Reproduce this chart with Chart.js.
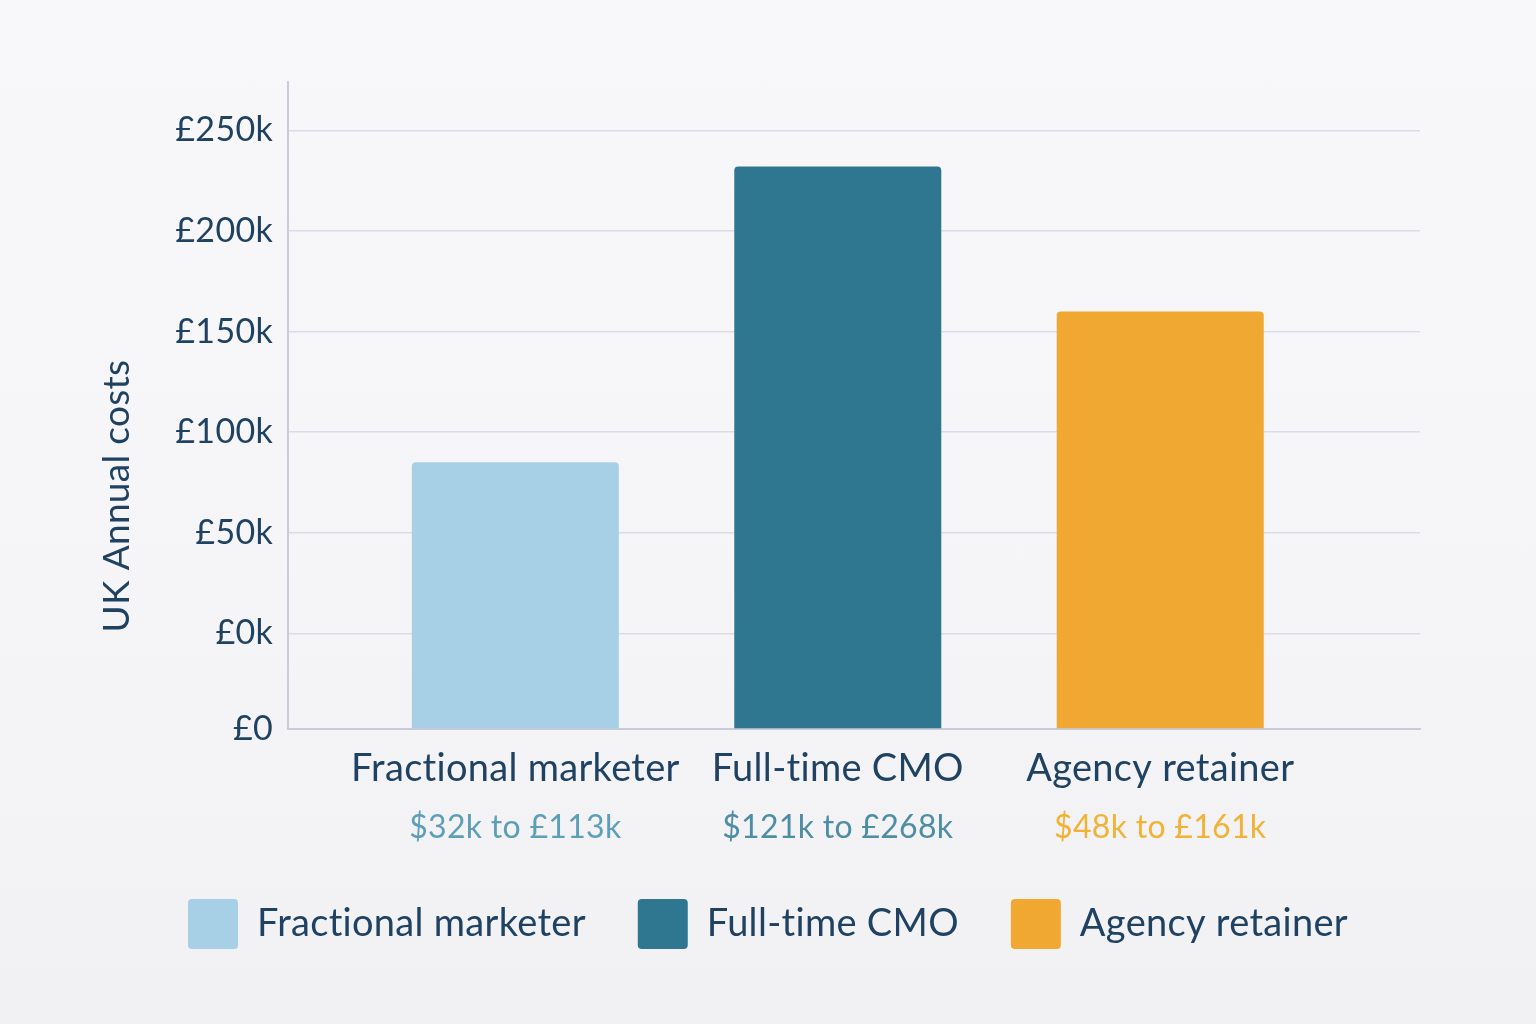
<!DOCTYPE html>
<html>
<head>
<meta charset="utf-8">
<script src="https://cdn.jsdelivr.net/npm/chart.js@4.4.1/dist/chart.umd.min.js"></script>
<style>
  html, body { margin: 0; padding: 0; }
  body { width: 1536px; height: 1024px; background: linear-gradient(180deg, #f8f8fb 0%, #f5f5f8 60%, #f1f1f4 100%); }
  #wrap { position: relative; width: 1536px; height: 1024px; }
</style>
</head>
<body>
<div id="wrap"><canvas id="c"></canvas></div>
<script>
// ---- data ----
const categories = ['Fractional marketer', 'Full-time CMO', 'Agency retainer'];
const values = [85, 232, 160];
const rangeLabels = ['$32k to £113k', '$121k to £268k', '$48k to £161k'];
const barColors = ['#a7d0e6', '#2f7690', '#f0a832'];
const rangeColors = ['#5c9fb6', '#4d8ea5', '#f2b236'];
const yTickValues = [-47.5, 0, 50, 100, 150, 200, 250];
const yTickLabels = ['£0', '£0k', '£50k', '£100k', '£150k', '£200k', '£250k'];
const yAxisTitle = 'UK Annual costs';

const NAVY = '#1f4262';
const FONT = 'Lato';

const datasets = categories.map((c, i) => ({
  label: c,
  data: [{ x: i + 1, y: values[i] }],
  backgroundColor: barColors[i],
  borderColor: barColors[i],
  borderWidth: 0,
  borderRadius: 4,
  base: yTickValues[0],
  grouped: false,
  barPercentage: 0.642,
  categoryPercentage: 1
}));

const textPlugin = {
  id: 'textTweaks',
  beforeUpdate(chart) { chart.ctx.letterSpacing = '0.3px'; },
  afterDraw(chart) {
    const { ctx, chartArea } = chart;
    ctx.save();
    ctx.translate(117, chartArea.bottom - 233);
    ctx.rotate(-Math.PI / 2);
    ctx.fillStyle = NAVY;
    ctx.font = '37px ' + FONT;
    ctx.textAlign = 'center';
    ctx.textBaseline = 'middle';
    ctx.fillText(yAxisTitle, 0, 0);
    ctx.restore();
  }
};

new Chart(document.getElementById('c'), {
  type: 'bar',
  data: { datasets },
  plugins: [textPlugin],
  options: {
    responsive: true,
    maintainAspectRatio: false,
    animation: false,
    devicePixelRatio: 1,
    layout: { padding: { left: 116, right: 116, top: 82, bottom: 65 } },
    plugins: {
      tooltip: { enabled: false },
      legend: {
        position: 'bottom',
        labels: {
          boxWidth: 50,
          boxHeight: 50,
          useBorderRadius: true,
          borderRadius: 4,
          padding: 52,
          color: NAVY,
          font: { family: FONT, size: 38 }
        }
      }
    },
    scales: {
      x: {
        type: 'linear',
        offset: false,
        min: 0.295,
        max: 3.8056,
        weight: 1,
        afterBuildTicks: (s) => { s.ticks = categories.map((c, i) => ({ value: i + 1 })); },
        grid: { display: false, drawTicks: false },
        border: { display: true, color: '#c9cbdb', width: 2 },
        ticks: {
          padding: 17,
          autoSkip: false,
          maxRotation: 0,
          color: NAVY,
          font: { family: FONT, size: 38 },
          callback: (v) => categories[v - 1] ?? ''
        }
      },
      x2: {
        type: 'linear',
        position: 'bottom',
        offset: false,
        min: 0.295,
        max: 3.8056,
        weight: 2,
        afterBuildTicks: (s) => { s.ticks = rangeLabels.map((c, i) => ({ value: i + 1 })); },
        grid: { display: false, drawTicks: false },
        border: { display: false },
        ticks: {
          padding: 0,
          autoSkip: false,
          maxRotation: 0,
          color: (ctx) => rangeColors[ctx.index],
          font: { family: FONT, size: 32 },
          callback: (v) => rangeLabels[v - 1] ?? ''
        }
      },
      y: {
        type: 'linear',
        min: yTickValues[0],
        max: 274,
        afterBuildTicks: (s) => { s.ticks = yTickValues.map(v => ({ value: v })); },
        afterFit: (s) => { s.width = 172; },
        grid: { color: '#dcdce9', lineWidth: 1.5, drawTicks: false },
        border: { display: true, color: '#c9cbdb', width: 2 },
        ticks: {
          padding: 15,
          color: NAVY,
          font: { family: FONT, size: 34 },
          callback: (v, i) => yTickLabels[i]
        }
      }
    }
  }
});
</script>
</body>
</html>
